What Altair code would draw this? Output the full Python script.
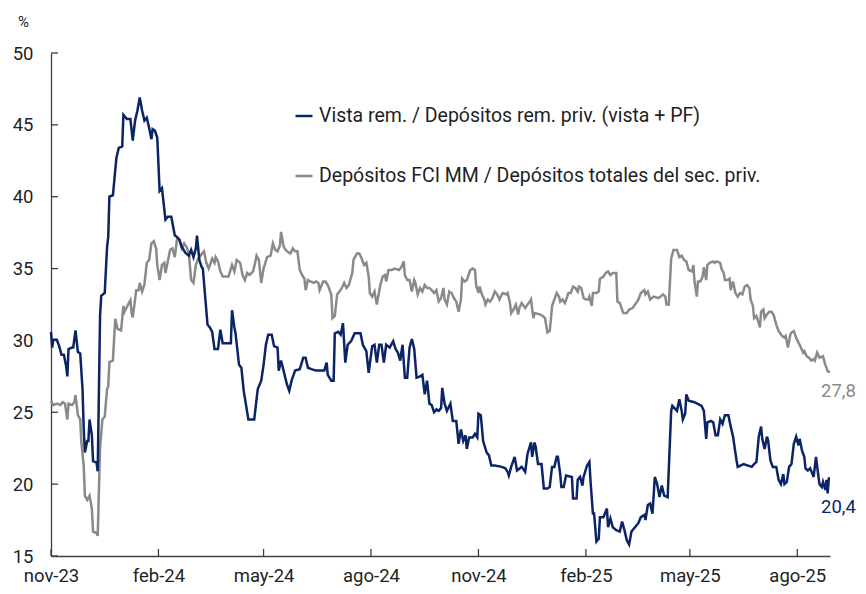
import altair as alt
import pandas as pd

START = "2023-11-01"

s_blue = "Vista rem. / Depósitos rem. priv. (vista + PF)"
s_gray = "Depósitos FCI MM / Depósitos totales del sec. priv."

blue_days = [0, 1, 2, 5, 7, 9, 11, 13, 14, 15, 18, 19, 21, 23, 25, 27, 28, 29, 31, 32, 33, 35, 36, 39, 40,
             42, 43, 46, 48, 49, 50, 53, 56, 58, 61, 62, 65, 68, 70, 72, 74, 76, 78, 80, 82, 84, 86, 87, 89, 91,
             93, 95, 98, 100, 103, 106, 108, 110, 112, 115, 118, 120, 122, 124, 125, 127, 129, 130, 134, 136,
             138, 140, 143, 145, 147, 150, 154, 155, 157, 158, 161, 163, 165, 167, 169, 172, 174, 177, 180,
             182, 184, 186, 189, 191, 194, 195, 197, 200, 202, 204, 206, 209, 213, 216, 218, 220, 223, 227,
             234, 236, 237, 240, 242, 243, 246, 248, 250, 252, 254, 257, 260, 265, 267, 270, 272, 275, 277,
             279, 281, 283, 285, 287, 290, 293, 295, 297, 299, 301, 303, 305, 307, 309, 311, 313, 316, 318,
             320, 322, 324, 326, 328, 330, 332, 334, 335, 337, 339, 342, 344, 347, 349, 351, 353, 355, 356,
             358, 361, 363, 365, 366, 368, 370, 373, 375, 377, 380, 386, 389, 391, 392, 394, 397, 399, 403,
             406, 408, 411, 412, 414, 415, 417, 420, 422, 425, 427, 429, 431, 433, 434, 436, 437, 439, 441,
             446, 447, 450, 451, 453, 455, 456, 459, 461, 462, 464, 465, 467, 469, 470, 473, 476, 477, 479,
             481, 484, 487, 489, 491, 493, 495, 497, 500, 503, 505, 508, 509, 511, 513, 515, 517, 519, 521,
             523, 525, 528, 531, 532, 536, 538, 540, 541, 543, 544, 546, 551, 557, 559, 561, 562, 565, 567,
             569, 571, 573, 575, 577, 580, 582, 584, 587, 588, 593, 600, 602, 604, 606, 608, 609, 611, 613,
             614, 616, 618, 621, 623, 625, 627, 628, 630, 632, 634, 636, 638, 640, 641, 643, 645, 646, 648,
             650, 653, 655, 657, 658, 660, 661, 663, 664, 665, 666, 667]
blue_vals = [30.6, 29.5, 30.05, 30.05, 29.6, 29.0, 29.0, 28.2, 27.5, 29.4, 29.5, 29.5, 30.7, 29.2, 29.1, 26.6,
             23.9, 22.2, 23.0, 23.0, 24.5, 23.4, 21.6, 21.5, 20.9,
             31.7, 33.1, 33.3, 36.5, 37.2, 40.0, 40.1, 42.7, 43.4, 43.5, 45.7, 45.4, 45.4, 43.9, 45.3, 46.0,
             46.9, 46.0, 45.3, 45.5, 44.8, 44.0, 44.7, 44.6, 44.1,
             40.4, 40.6, 38.4, 38.6, 38.6, 37.3, 37.2, 37.0, 36.5, 36.1, 35.9, 36.3, 35.8, 36.4, 37.3, 35.6,
             35.1, 35.0, 31.1, 30.9,
             30.6, 29.4, 29.4, 30.75, 29.8, 29.8, 29.8, 32.1, 30.9, 30.5, 28.3, 28.1, 26.5, 25.5, 24.5, 24.5,
             24.5, 26.6, 27.2,
             28.3, 29.7, 30.4, 30.4, 29.6, 29.5, 27.9, 28.6, 27.6, 26.95, 26.5, 27.2, 27.9, 28.0, 28.8, 28.8,
             28.1, 28.0, 27.9,
             27.9, 28.45, 27.6, 27.2, 27.2, 30.5, 30.6, 30.4, 31.2, 28.45, 29.7, 29.95, 30.5, 30.5, 29.7, 29.25,
             27.75, 29.6, 29.7,
             28.45, 29.7, 29.7, 28.45, 29.7, 29.5, 29.95, 29.4, 29.15, 28.6, 29.7, 27.4, 27.4, 29.5, 30.1, 29.4,
             27.4, 27.5, 27.6,
             26.25, 27.2, 25.6, 25.5, 25.0, 25.2, 25.1, 25.3, 26.7, 25.6, 25.1, 25.6, 24.4, 24.4, 22.8, 23.8,
             23.0, 23.4, 22.45,
             23.25, 23.25, 23.5, 23.25, 24.9, 24.8, 23.0, 22.2, 22.0, 21.3, 21.3, 21.2, 21.1, 20.85, 20.6, 21.2,
             21.9, 20.95, 21.2,
             20.85, 22.1, 22.9, 21.9, 22.9, 22.6, 21.4, 21.4, 19.7, 19.7, 19.8, 21.2, 21.2, 21.9, 21.9, 20.7,
             19.8, 19.8, 20.6,
             20.5, 19.0, 19.0, 20.3, 20.5, 19.9, 20.5, 21.3, 21.55, 20.15, 17.95, 17.95, 16.0, 16.2, 17.7, 17.7,
             18.3, 17.0, 17.6,
             17.0, 16.8, 16.7, 17.4, 16.8, 16.1, 15.8, 16.7, 17.0, 17.3, 17.7, 17.85, 17.5, 18.55, 18.65, 17.95,
             20.5, 20.0, 19.1,
             19.9, 19.2, 19.1, 25.1, 25.45, 25.1, 25.9, 25.1, 24.5, 24.9, 26.25, 25.8, 25.7, 25.45, 25.1, 23.15,
             24.3, 24.4, 24.3,
             23.4, 23.4, 24.5, 24.2, 24.8, 24.8, 24.0, 23.3, 21.65, 21.2, 21.4, 21.2, 21.4, 21.55, 23.3, 24.0,
             23.15, 22.45, 23.3,
             23.05, 21.65, 21.2, 21.2, 20.3, 20.0, 20.7, 20.0, 20.15, 21.2, 21.4, 22.8, 23.3, 22.7, 23.15, 22.35,
             21.9, 21.1, 20.95,
             21.1, 20.5, 21.9, 20.6, 20.0, 19.8, 20.15, 19.6, 20.3, 19.35, 20.4, 20.4]

gray_days = [0, 2, 5, 8, 10, 12, 14, 15, 18, 20, 21, 23, 25, 26, 28, 29, 31, 33, 35, 36, 39, 40, 42, 44, 46,
             48, 49, 50, 53, 55, 57, 60, 62, 63, 66, 68, 69, 70, 73, 75, 76, 78, 80, 82, 84, 86, 88, 90, 91, 93,
             95, 97, 98, 100, 102, 104, 106, 108, 110, 112, 114, 116, 118, 120, 122, 124, 126, 128, 131, 133,
             135, 138, 140, 141, 143, 145, 147, 152, 155, 157, 159, 162, 164, 166, 168, 170, 173, 175, 176,
             178, 180, 182, 185, 188, 190, 192, 194, 196, 197, 199, 200, 202, 205, 207, 209, 211, 213, 215,
             217, 218, 220, 222, 225, 227, 229, 230, 233, 235, 237, 240, 241, 243, 245, 247, 249, 251, 253,
             255, 258, 259, 262, 264, 266, 268, 270, 272, 273, 275, 277, 279, 282, 284, 286, 287, 289, 292,
             294, 298, 300, 302, 303, 305, 307, 309, 311, 312, 314, 316, 318, 320, 322, 324, 326, 328, 330,
             332, 334, 336, 337, 339, 341, 343, 345, 347, 349, 351, 352, 354, 356, 359, 361, 363, 364, 366,
             367, 369, 371, 372, 374, 376, 378, 380, 382, 384, 386, 387, 390, 391, 393, 394, 396, 398, 400,
             401, 403, 406, 408, 410, 411, 413, 414, 419, 421, 423, 425, 427, 428, 429, 431, 433, 435, 436,
             438, 440, 442, 443, 445, 447, 449, 451, 452, 454, 456, 458, 460, 461, 463, 464, 467, 469, 470,
             473, 475, 477, 479, 481, 484, 485, 487, 490, 493, 495, 498, 501, 503, 505, 508, 509, 511, 513,
             516, 520, 522, 524, 526, 527, 529, 531, 533, 536, 538, 540, 542, 544, 546, 549, 550, 551, 553,
             554, 556, 558, 559, 561, 562, 564, 567, 568, 570, 573, 574, 576, 577, 579, 581, 582, 584, 586,
             588, 590, 592, 594, 596, 598, 599, 601, 602, 604, 606, 607, 608, 610, 611, 613, 615, 617, 619,
             621, 623, 624, 626, 628, 629, 631, 633, 634, 636, 638, 640, 641, 644, 645, 647, 649, 651, 653,
             654, 656, 658, 661, 663, 664, 665, 667]
gray_vals = [25.8, 25.5, 25.6, 25.5, 25.7, 25.6, 24.5, 25.6, 25.5, 25.7, 26.2, 24.8, 24.5, 22.9, 21.3, 19.2,
             18.9, 19.2, 18.3, 16.7, 16.6, 16.4, 22.5, 24.5, 24.7,
             26.6, 26.8, 28.5, 28.6, 31.5, 30.8, 30.7, 32.4, 32.0, 32.5, 32.8, 31.9, 31.6, 33.5, 33.5, 34.0,
             33.4, 33.9, 35.4, 35.6, 36.75, 36.9, 36.4, 35.25, 34.2,
             35.25, 35.4, 34.7, 35.5, 36.3, 36.4, 35.8, 37.1, 37.0, 36.4, 36.75, 36.5, 36.1, 34.2, 34.0, 35.25,
             35.7, 35.9, 36.2, 35.4,
             35.0, 35.7, 35.4, 35.8, 35.5, 34.8, 34.45, 34.45, 35.25, 34.8, 35.6, 35.4, 34.55, 34.2, 34.7,
             34.55, 34.8, 35.5, 35.9,
             35.6, 34.0, 35.0, 35.8, 35.9, 36.75, 36.3, 36.2, 36.6, 37.55, 36.6, 36.4, 36.2, 36.05, 36.4, 36.2,
             36.2, 34.9, 34.55,
             34.3, 33.5, 34.2, 34.1, 34.0, 34.1, 34.0, 33.5, 34.1, 34.1, 33.85, 33.2, 31.55, 31.7, 33.2, 33.4,
             33.65, 34.0, 33.65,
             33.85, 34.7, 35.6, 36.05, 36.05, 35.7, 35.25, 35.4, 34.45, 33.3, 33.05, 33.4, 32.5, 33.85, 34.45,
             34.55, 34.1, 34.9, 34.9,
             35.0, 34.9, 35.1, 35.5, 34.55, 34.2, 34.2, 33.4, 34.2, 34.0, 33.2, 33.65, 33.4, 33.85, 33.65,
             33.65, 33.5, 33.3, 33.5,
             32.7, 32.95, 33.65, 32.85, 32.5, 33.4, 33.3, 32.95, 32.7, 32.0, 32.85, 34.3, 34.1, 34.2, 34.9,
             35.0, 34.9, 33.85, 33.3,
             33.75, 33.2, 32.85, 32.5, 32.85, 32.7, 32.95, 33.4, 33.2, 32.85, 33.2, 33.3, 33.2, 33.3, 32.6,
             31.9, 32.15, 32.5, 31.8,
             32.25, 32.6, 32.25, 32.5, 32.7, 32.85, 31.55, 31.9, 31.8, 31.7, 31.55, 30.55, 30.65, 31.45, 32.4,
             32.85, 33.3, 33.05, 32.7,
             32.85, 32.6, 33.05, 33.3, 33.3, 33.75, 33.65, 33.4, 33.75, 33.65, 32.95, 32.85, 32.85, 33.05, 32.4,
             33.3, 33.3, 33.4, 34.3,
             34.45, 34.7, 34.8, 34.55, 34.7, 34.7, 32.7, 32.6, 31.9, 31.9, 32.15, 32.25, 32.6, 32.85, 33.3,
             33.5, 33.2, 33.4, 32.85,
             33.05, 32.95, 33.05, 33.2, 33.05, 32.5, 32.5, 35.7, 36.3, 36.3, 35.8, 35.9, 35.6, 35.5, 34.9, 34.8,
             35.25, 34.1, 33.05,
             34.1, 34.1, 34.45, 35.1, 34.2, 35.25, 35.4, 35.5, 35.4, 35.5, 35.4, 35.0, 34.7, 34.2, 34.2, 34.3,
             33.5, 34.1, 33.3,
             33.05, 33.3, 33.2, 33.75, 33.85, 33.65, 32.85, 32.4, 31.55, 31.7, 31.2, 30.9, 32.0, 32.15, 31.55,
             31.8, 32.0, 32.0, 31.7,
             31.1, 30.65, 30.55, 30.3, 30.2, 30.3, 29.5, 30.4, 30.55, 30.65, 30.2, 29.85, 29.7, 29.15, 29.25,
             28.9, 28.8, 28.6, 28.7,
             28.6, 29.15, 28.8, 28.9, 28.3, 28.1, 27.85, 27.8]

end_labels = {s_blue: "20,4", s_gray: "27,8"}
y_ticks = [15, 20, 25, 30, 35, 40, 45, 50]
x_tick_dates = ["2023-11-01", "2024-02-01", "2024-05-01", "2024-08-01",
                "2024-11-01", "2025-02-01", "2025-05-01", "2025-08-01"]

NAVY = "#0b2466"
GRAY = "#8a8a8a"
AXIS = "#404040"
TXT = "#1f1f1f"


def to_dates(days):
    return (pd.Timestamp(START) + pd.to_timedelta(days, unit="D")).strftime("%Y-%m-%d").tolist()


df_blue = pd.DataFrame({"date": to_dates(blue_days), "value": blue_vals, "serie": s_blue})
df_gray = pd.DataFrame({"date": to_dates(gray_days), "value": gray_vals, "serie": s_gray})
df_end_b = pd.DataFrame([{"date": df_blue["date"].iloc[-1], "value": blue_vals[-1], "label": end_labels[s_blue]}])
df_end_g = pd.DataFrame([{"date": df_gray["date"].iloc[-1], "value": gray_vals[-1], "label": end_labels[s_gray]}])
df_yt = pd.DataFrame({"value": y_ticks})
df_xt = pd.DataFrame({"date": x_tick_dates})

W, H = 779, 503

month_expr = ("['ene','feb','mar','abr','may','jun','jul','ago','sep','oct','nov','dic']"
              "[utcmonth(datum.value)] + '-' + utcFormat(datum.value, '%y')")

x_scale = alt.Scale(type="utc", domain=[alt.DateTime(year=2023, month=11, date=1, utc=True),
                                        alt.DateTime(year=2025, month=8, date=29, utc=True)])
x_axis = alt.Axis(
    values=[alt.DateTime(year=int(d[:4]), month=int(d[5:7]), date=1, utc=True) for d in x_tick_dates],
    labelExpr=month_expr, ticks=False, grid=False, title=None,
    labelFontSize=18.5, labelPadding=10, labelColor=TXT, labelFont="Roboto",
    domainColor=AXIS, domainWidth=1.3, labelFlush=False,
)
y_scale = alt.Scale(domain=[15, 50], nice=False, zero=False)
y_axis = alt.Axis(
    values=y_ticks, ticks=False, grid=False, title="%", titleAngle=0,
    titleX=-28, titleY=-32, titleAlign="center", titleBaseline="middle",
    titleFontSize=15, titleFontWeight="normal", titleColor=TXT, titleFont="Roboto",
    labelFontSize=18.5, labelPadding=18, labelColor=TXT, labelFont="Roboto",
    domainColor=AXIS, domainWidth=1.3,
)

X = alt.X("date:T", scale=x_scale, axis=x_axis)
Y = alt.Y("value:Q", scale=y_scale, axis=y_axis)

color = alt.Color(
    "serie:N",
    scale=alt.Scale(domain=[s_blue, s_gray], range=[NAVY, GRAY]),
    legend=alt.Legend(
        orient="none", legendX=243, legendY=53, title=None, padding=0,
        symbolType="stroke", symbolSize=289, symbolStrokeWidth=2.5,
        labelFontSize=19.5, labelFont="Roboto", labelColor=TXT, labelLimit=800,
        labelOffset=5, rowPadding=40,
    ),
)

gray_line = alt.Chart(df_gray).mark_line(strokeWidth=2.5).encode(x=X, y=Y, color=color)
blue_line = alt.Chart(df_blue).mark_line(strokeWidth=2.5).encode(x=X, y=Y, color=color)

lab_gray = alt.Chart(df_end_g).mark_text(
    align="left", baseline="middle", dx=-9, dy=19, fontSize=18.5, font="Roboto", color=GRAY
).encode(x=X, y=Y, text="label:N")
lab_blue = alt.Chart(df_end_b).mark_text(
    align="left", baseline="middle", dx=-9, dy=29, fontSize=18.5, font="Roboto", color=NAVY
).encode(x=X, y=Y, text="label:N")

ytick = alt.Chart(df_yt).mark_rule(color=AXIS, strokeWidth=1.3).encode(
    y=Y, x=alt.value(0), x2=alt.value(7))
xtick = alt.Chart(df_xt).mark_rule(color=AXIS, strokeWidth=1.3).encode(
    x=X, y=alt.value(H), y2=alt.value(H - 7))

chart = alt.layer(ytick, xtick, gray_line, blue_line, lab_gray, lab_blue).properties(
    width=W, height=H, autosize="none",
    padding={"left": 43, "top": 45, "right": 28, "bottom": 30},
    background="white",
).configure_view(stroke=None)

chart.save("out.html", embed_options={"renderer": "svg", "actions": False})
